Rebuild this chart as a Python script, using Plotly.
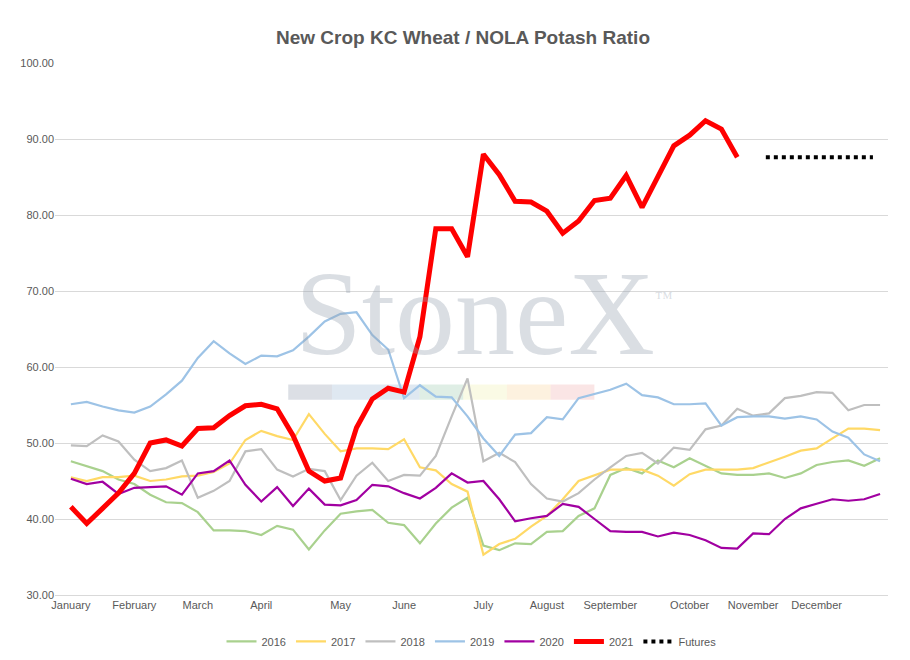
import plotly.graph_objects as go

months = ["January","February","March","April","May","June","July","August","September","October","November","December"]
month_idx = [0,4,8,12,17,21,26,30,34,39,43,47]

s2016 = [47.6,47.0,46.3,45.2,44.6,43.2,42.2,42.1,40.9,38.5,38.5,38.4,37.9,39.1,38.6,36.0,38.5,40.7,41.0,41.2,39.5,39.2,36.8,39.4,41.5,42.8,36.5,35.9,36.8,36.7,38.3,38.4,40.4,41.4,45.8,46.7,46.0,47.7,46.8,48.0,47.0,46.0,45.8,45.8,46.0,45.4,46.0,47.1,47.5,47.7,47.0,48.0]
s2017 = [45.5,45.0,45.5,45.5,45.7,45.0,45.2,45.6,45.7,46.2,47.3,50.4,51.6,50.9,50.4,53.8,51.2,48.9,49.3,49.3,49.2,50.5,46.8,46.4,44.6,43.6,35.3,36.7,37.4,39.0,40.4,42.6,45.0,45.8,46.5,46.5,46.5,45.7,44.4,45.9,46.5,46.5,46.5,46.7,47.4,48.2,49.0,49.3,50.6,51.9,51.9,51.7]
s2018 = [49.7,49.6,51.0,50.2,47.8,46.3,46.7,47.7,42.8,43.7,45.0,48.9,49.2,46.5,45.6,46.6,46.3,42.5,45.7,47.4,45.0,45.8,45.7,48.3,53.5,58.5,47.6,48.7,47.5,44.6,42.7,42.3,43.4,45.2,46.8,48.3,48.7,47.3,49.4,49.1,51.8,52.3,54.5,53.6,53.9,55.9,56.2,56.7,56.6,54.3,55.0,55.0]
s2019 = [55.1,55.4,54.8,54.3,54.0,54.8,56.4,58.2,61.2,63.4,61.8,60.4,61.5,61.4,62.2,64.0,66.0,67.0,67.2,64.2,62.3,55.9,57.6,56.1,56.0,53.5,50.6,48.3,51.1,51.3,53.4,53.1,55.9,56.4,57.0,57.8,56.3,56.0,55.1,55.1,55.2,52.3,53.4,53.5,53.5,53.2,53.5,53.1,51.5,50.7,48.5,47.6]
s2020 = [45.3,44.6,44.9,43.3,44.1,44.2,44.3,43.2,46.0,46.3,47.7,44.5,42.3,44.2,41.7,44.0,41.9,41.8,42.5,44.5,44.3,43.4,42.7,44.1,46.0,44.8,45.0,42.6,39.7,40.1,40.4,42.0,41.6,40.0,38.4,38.3,38.3,37.7,38.2,37.9,37.2,36.2,36.1,38.1,38.0,40.0,41.4,42.0,42.6,42.4,42.6,43.3]
s2021 = [41.6,39.4,41.4,43.4,46.0,50.0,50.4,49.6,51.9,52.0,53.6,54.9,55.1,54.5,51.0,46.3,45.0,45.4,52.0,55.8,57.2,56.7,64.0,78.2,78.2,74.5,88.0,85.3,81.8,81.7,80.5,77.6,79.2,81.9,82.2,85.2,81.0,84.9,89.1,90.5,92.4,91.3,87.6]
futures_val = 87.6
futures_idx = [43.8, 44.55, 45.3, 46.05, 46.8, 47.55, 48.3, 49.05, 49.8, 50.55]

fig = go.Figure()
def add(name, ys, color, width):
    fig.add_trace(go.Scatter(x=list(range(len(ys))), y=ys, name=name, mode="lines",
                             line=dict(color=color, width=width)))
add("2016", s2016, "#A9D18E", 2.2)
add("2017", s2017, "#FFD966", 2.2)
add("2018", s2018, "#BFBFBF", 2.2)
add("2019", s2019, "#9DC3E6", 2.2)
add("2020", s2020, "#A100A1", 2.2)
add("2021", s2021, "#FF0000", 5)
fig.add_trace(go.Scatter(x=futures_idx, y=[futures_val]*len(futures_idx), name="Futures", mode="lines",
                         line=dict(color="black", width=4, dash="dot")))

# watermark
fig.add_annotation(x=0.515, y=0.53, xref="paper", yref="paper",
                   text="StoneX<sup><span style='font-size:18px'>™</span></sup>", showarrow=False,
                   font=dict(family="Liberation Serif", size=120, color="rgba(150,160,175,0.35)"))
band = ["rgba(140,150,170,0.3)","rgba(150,180,210,0.3)","rgba(150,180,210,0.3)","rgba(150,200,170,0.3)","rgba(240,240,170,0.3)","rgba(250,210,150,0.3)","rgba(240,170,170,0.3)"]
for i, c in enumerate(band):
    fig.add_shape(type="rect", xref="paper", yref="y", x0=0.28+i*0.0525, x1=0.28+(i+1)*0.0525, y0=55.7, y1=57.7,
                  fillcolor=c, line_width=0, layer="below")

fig.update_layout(
    width=910, height=660, plot_bgcolor="white", paper_bgcolor="white",
    title=dict(text="<b>New Crop KC Wheat / NOLA Potash Ratio</b>", x=0.5, y=0.965,
               font=dict(family="Liberation Sans", size=19, color="#595959")),
    margin=dict(l=45, r=30, t=55, b=60),
    font=dict(family="Liberation Sans", size=11, color="#595959"),
    legend=dict(orientation="h", x=0.5, xanchor="center", y=-0.06, yanchor="top", font=dict(size=11)),
    showlegend=True,
)
fig.update_xaxes(tickmode="array", tickvals=month_idx, ticktext=months, range=[-1, 51.5],
                 showgrid=False, showline=True, linecolor="#D9D9D9", ticks="", zeroline=False)
fig.update_yaxes(range=[30, 100], dtick=10, tickformat=".2f", gridcolor="#D9D9D9", zeroline=False, showline=False)
fig.write_html("out.html")
